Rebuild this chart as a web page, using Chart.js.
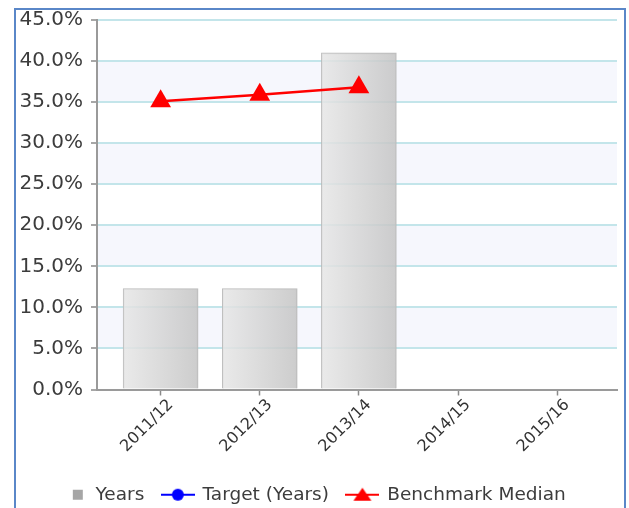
<!DOCTYPE html>
<html>
<head>
<meta charset="utf-8">
<script src="https://cdn.jsdelivr.net/npm/chart.js@4.4.1/dist/chart.umd.min.js"></script>
<style>
  html, body { margin: 0; padding: 0; background: #fff; overflow: hidden; }
  #frame {
    position: absolute; left: 14px; top: 8px; width: 608px; height: 540px;
    border: 2px solid #5a87c8; box-sizing: content-box;
  }
  #wrap { position: absolute; left: 0; top: 0; width: 629px; height: 514px; }
</style>
</head>
<body>
<div id="frame"></div>
<div id="wrap"><canvas id="chart"></canvas></div>
<script>
// Financial years on the horizontal axis
const categories = ['2011/12', '2012/13', '2013/14', '2014/15', '2015/16'];
// Percentage values per year (null = no figure reported)
const yearsValues = [12.3, 12.3, 41.0, null, null];
const targetValues = [null, null, null, null, null];
const benchmarkValues = [35.1, 35.9, 36.8, null, null];
// Value axis ticks
const yTicks = [0, 5, 10, 15, 20, 25, 30, 35, 40, 45];

const toPoints = arr => arr.map((v, i) => ({ x: i, y: v }));

// Small legend symbols: a grey square, and line-with-marker glyphs
function legendGlyph(kind, color) {
  const c = document.createElement('canvas');
  c.width = 34; c.height = 16;
  const g = c.getContext('2d');
  if (kind === 'square') {
    g.fillStyle = color;
    g.fillRect(19, 3, 10, 10);
    return c;
  }
  g.strokeStyle = color; g.lineWidth = 2;
  g.beginPath(); g.moveTo(0, 8); g.lineTo(34, 8); g.stroke();
  g.fillStyle = color;
  if (kind === 'circle') {
    g.beginPath(); g.arc(17, 8, 6, 0, Math.PI * 2); g.fill();
  } else {
    g.beginPath(); g.moveTo(17, 1); g.lineTo(26, 14); g.lineTo(8, 14); g.closePath(); g.fill();
  }
  return c;
}
const glyphs = [
  legendGlyph('square', '#a6a6a6'),
  legendGlyph('circle', '#0000ff'),
  legendGlyph('triangle', '#ff0000')
];

// Alternating pale bands behind the plot
const bandPlugin = {
  id: 'bands',
  beforeDraw(chart) {
    const { ctx, chartArea, scales } = chart;
    const y = scales.y;
    ctx.save();
    ctx.fillStyle = '#f6f7fd';
    for (let i = 0; i < yTicks.length - 1; i++) {
      if (i % 2 === 1) {
        const top = y.getPixelForValue(yTicks[i + 1]);
        const bottom = y.getPixelForValue(yTicks[i]);
        ctx.fillRect(chartArea.left, top, chartArea.right - chartArea.left, bottom - top);
      }
    }
    ctx.restore();
  }
};

function barGradient(context) {
  const chart = context.chart;
  const x = chart.scales.x;
  if (!chart.chartArea || !x || context.parsed === undefined) return 'rgba(215,215,215,0.85)';
  const cx = x.getPixelForValue(context.parsed.x);
  const g = chart.ctx.createLinearGradient(cx - 37, 0, cx + 37, 0);
  g.addColorStop(0, 'rgba(230,230,230,0.85)');
  g.addColorStop(1, 'rgba(196,196,196,0.85)');
  return g;
}

new Chart(document.getElementById('chart'), {
  type: 'bar',
  data: {
    datasets: [
      {
        type: 'bar',
        label: 'Years',
        data: toPoints(yearsValues),
        backgroundColor: barGradient,
        borderColor: 'rgba(185,185,185,0.95)',
        borderWidth: 1,
        barThickness: 75,
        order: 3
      },
      {
        type: 'line',
        label: 'Target (Years)',
        data: toPoints(targetValues),
        borderColor: '#0000ff',
        backgroundColor: '#0000ff',
        pointStyle: 'circle',
        order: 2
      },
      {
        type: 'line',
        label: 'Benchmark Median',
        data: toPoints(benchmarkValues),
        borderColor: '#ff0000',
        backgroundColor: '#ff0000',
        borderWidth: 2.5,
        pointStyle: 'triangle',
        pointRadius: 12,
        pointHoverRadius: 12,
        pointBorderWidth: 0,
        order: 1
      }
    ]
  },
  options: {
    responsive: true,
    maintainAspectRatio: false,
    animation: false,
    events: [],
    layout: { padding: { left: 0, right: 8, top: 19, bottom: 0 } },
    scales: {
      x: {
        type: 'linear',
        min: -0.642,
        max: 4.604,
        offset: false,
        afterBuildTicks(scale) {
          scale.ticks = categories.map((_, i) => ({ value: i }));
        },
        afterFit(scale) { scale.height = 78; },
        ticks: {
          callback: v => categories[v],
          minRotation: 45,
          maxRotation: 45,
          autoSkip: false,
          padding: 0,
          labelOffset: 10,
          color: '#333333',
          font: { family: 'DejaVu Sans', size: 16 }
        },
        grid: {
          offset: false,
          drawOnChartArea: false,
          tickLength: 6,
          tickColor: '#8a8a8a',
          tickWidth: 1.5
        },
        border: { color: '#9a9a9a', width: 2 }
      },
      y: {
        min: 0,
        max: 45,
        afterBuildTicks(scale) {
          scale.ticks = yTicks.map(v => ({ value: v }));
        },
        afterFit(scale) { scale.width = 97; },
        ticks: {
          callback: v => v.toFixed(1) + '%',
          padding: 8,
          color: '#3c3c3c',
          font: { family: 'DejaVu Sans', size: 20 }
        },
        grid: {
          color: '#c3e5ea',
          lineWidth: 2,
          tickLength: 6,
          tickColor: '#8a8a8a',
          tickWidth: 1.5
        },
        border: { color: '#9a9a9a', width: 2 }
      }
    },
    plugins: {
      tooltip: { enabled: false },
      legend: {
        position: 'bottom',
        labels: {
          usePointStyle: true,
          pointStyleWidth: 31,
          padding: 18,
          color: '#3c3c3c',
          font: { family: 'DejaVu Sans', size: 18.5 },
          generateLabels(chart) {
            return chart.data.datasets.map((ds, i) => ({
              text: ds.label,
              pointStyle: glyphs[i],
              fillStyle: ds.backgroundColor,
              strokeStyle: ds.borderColor,
              lineWidth: 0,
              hidden: false,
              datasetIndex: i,
              fontColor: '#3c3c3c'
            }));
          }
        }
      }
    }
  },
  plugins: [bandPlugin]
});
</script>
</body>
</html>
